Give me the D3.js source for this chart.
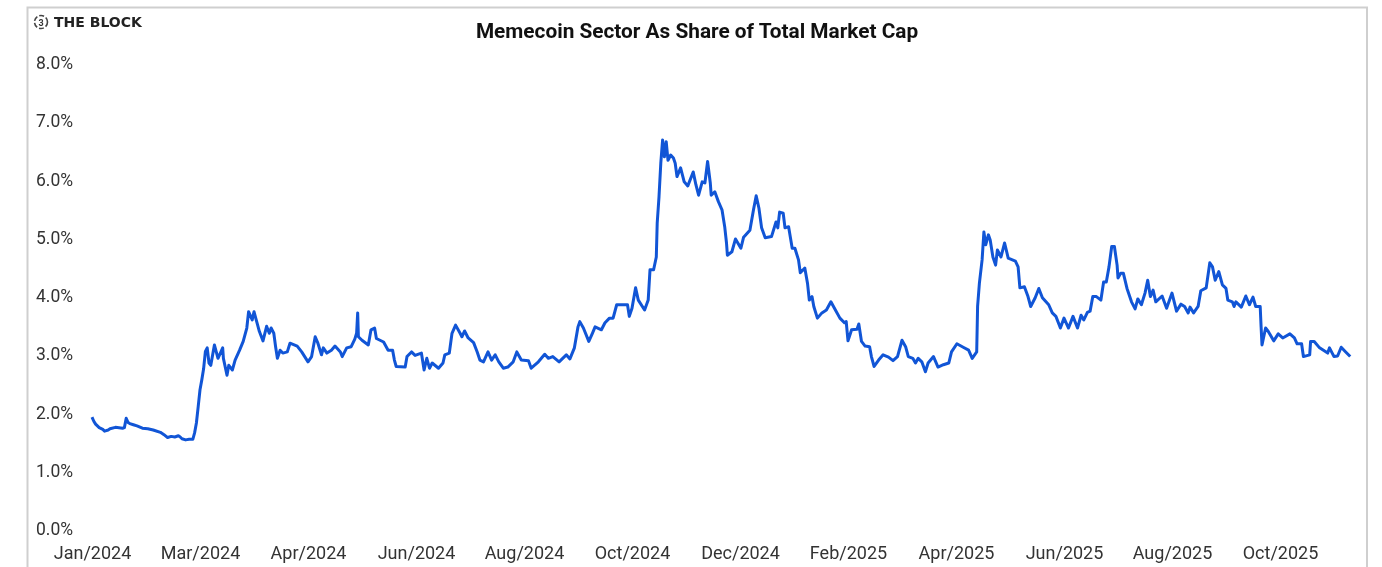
<!DOCTYPE html>
<html>
<head>
<meta charset="utf-8">
<script src="https://cdn.jsdelivr.net/npm/d3@7/dist/d3.min.js"></script>
<style>
html,body{margin:0;padding:0;background:#fff;overflow:hidden}
svg{display:block;filter:blur(0.6px)}
text{font-family:Roboto,sans-serif}
</style>
</head>
<body>
<svg id="c" width="1382" height="567"></svg>
<script>
const chartTitle = "Memecoin Sector As Share of Total Market Cap";
const brandName = "THE BLOCK";
const startDate = "2024-01-01";
const xTickDays = [0,60,120,180,240,300,360,420,480,540,600,660];
const yTickValues = [0,1,2,3,4,5,6,7,8];
const daysSinceStart = [
0,1,2,3,4,6,7,9,10,13,17,18,19,20,21,23,25,28,31,34,38,40,42,44,46,48,49,50,52,54,56,57,58,59,60,61,62,63,64,65,66,68,70,72.6,73,75,76,78,79.5,82,84,86,87,
89,90,91.5,93,95,97,98.5,99.5,101,102,103,104.5,106,108.5,110,114,116.5,120,122,124,125.5,127.5,128.5,130.5,133,135,138,139,141.5,144,146,147,147.6,148,150,153.5,155,157,158,160,162,164.5,167,168,169,174,
175,177.5,179.5,183,184.5,186,187.5,189,192.5,195,196,198.5,200,202,204.5,205.5,207,209,212,214,215.5,217.5,220,222,224,226,228.5,231,234,236,238.5,242.5,244,248,251.5,253.5,256,259.5,263.5,265.5,268,270,271,273,276,278,279.5,283,285,287.5,289.5,291.5,297.5,298.5,300,302,303.5,307,309,310,312,313.5,314,315,316,317,318,319,320,321.5,323,324,325,327,329,331,334,335.5,337,339,340.5,342,343.5,344,346,348,350,351.5,352.5,353,355.5,357.5,360.5,362,365.5,367.5,369,370.5,372,374,377.5,380,381,382,384,385,387,389,390.5,392.5,393.5,396,397.5,398.5,400,401,403,405.5,408,410.5,413,415.5,418,419,420,422,425,426,427.5,429.5,432,433,434.5,437,439.5,442.5,445,447.5,450,452,453.5,456,457.5,459,461,463,464.5,467.5,470,473,476,477.5,480.5,484,487,489,491.5,492,493,494.5,495.5,496.5,498,499,500.5,502,503,505,507,509,513,514.5,515.5,518,520,521.5,524,526,528,531.5,533.5,535.5,538,540,542.5,545,547.5,549.5,551,553,554.5,556,558,560.5,562,563.5,565,566.5,568,569.5,570,571.5,573,575,577.5,579.5,581,583,585,586.5,588,589.5,591,594.5,597,600,602.5,605,607,609,610,612,614.5,616,619,621,622.5,624,626,628,630,631,633.5,634.5,635.5,638.5,641,643,645,646.5,649,649.5,650,652,653.5,656.5,659,661.5,665.5,668,669.5,672,673,676.5,677,679,682,686.5,687.5,690,692,694,696.5,699
];
const memecoinSharePct = [
1.92,1.85,1.80,1.77,1.74,1.71,1.68,1.70,1.72,1.745,1.73,1.74,1.90,1.83,1.81,1.79,1.77,1.73,1.72,1.70,1.66,1.62,1.57,1.59,1.58,1.60,1.58,1.55,1.53,1.54,1.54,1.65,1.82,2.10,2.39,2.56,2.75,3.05,3.11,2.85,2.81,3.16,2.93,3.11,2.93,2.64,2.81,2.73,2.90,3.07,3.22,3.45,3.73,
3.59,3.73,3.56,3.39,3.23,3.48,3.36,3.45,3.36,3.13,2.93,3.07,3.02,3.04,3.19,3.14,3.04,2.87,2.96,3.30,3.19,2.99,3.11,3.02,3.07,3.14,3.04,2.96,3.11,3.13,3.26,3.36,3.71,3.30,3.24,3.16,3.42,3.45,3.27,3.24,3.21,3.07,3.07,2.90,2.79,2.78,
2.96,3.04,2.98,3.02,2.73,2.93,2.76,2.85,2.76,2.85,2.99,3.02,3.36,3.50,3.36,3.30,3.40,3.28,3.20,3.04,2.90,2.87,3.04,2.90,2.99,2.87,2.76,2.78,2.87,3.04,2.90,2.89,2.76,2.87,3.00,2.93,2.96,2.87,2.99,2.92,3.11,3.47,3.56,3.45,3.22,3.36,3.47,3.42,3.54,3.62,3.62,3.85,3.85,3.65,3.79,4.14,3.93,3.76,3.93,4.45,4.45,4.67,5.25,5.70,6.28,6.68,6.39,6.65,6.33,6.42,6.37,6.28,6.05,6.20,5.96,5.89,6.13,5.91,5.73,5.96,5.94,6.31,5.94,5.73,5.79,5.62,5.48,5.19,4.91,4.70,4.76,4.98,4.82,5.01,5.13,5.48,5.72,5.51,5.17,5.00,5.02,5.27,5.17,5.44,5.42,5.17,5.19,4.82,4.82,4.62,4.40,4.48,4.22,3.93,3.99,3.82,3.62,3.71,3.76,3.90,3.76,3.62,3.54,3.56,3.23,3.42,3.43,3.52,3.22,3.14,3.13,2.96,2.79,2.90,2.99,2.95,2.89,2.96,3.24,3.13,2.96,2.93,2.85,2.93,2.87,2.70,2.85,2.96,2.78,2.82,2.85,3.04,3.18,3.12,3.07,2.93,3.04,3.82,4.22,4.62,5.10,4.88,5.05,4.96,4.67,4.53,4.79,4.67,4.91,4.65,4.60,4.50,4.14,4.16,3.99,3.82,3.97,4.13,3.97,3.85,3.71,3.65,3.45,3.62,3.45,3.65,3.45,3.67,3.59,3.72,3.74,3.99,3.99,3.93,4.24,4.24,4.50,4.85,4.85,4.53,4.31,4.39,4.39,4.13,3.90,3.78,3.95,3.85,4.05,4.27,3.99,4.10,3.90,4.00,3.79,4.05,3.74,3.86,3.82,3.71,3.81,3.71,3.82,4.09,4.14,4.57,4.50,4.27,4.42,4.19,4.13,3.93,3.90,3.82,3.90,3.81,4.00,3.85,3.98,3.82,3.82,3.47,3.16,3.45,3.39,3.23,3.35,3.28,3.35,3.28,3.18,3.18,2.96,2.99,3.22,3.22,3.11,3.02,3.11,2.96,2.97,3.12,3.04,2.96
];

const origin = new Date(startDate + "T00:00:00Z");
const toDate = d => new Date(origin.getTime() + d * 864e5);
const rows = daysSinceStart.map((d,i)=>({date:toDate(d), v:memecoinSharePct[i]}));

const svg = d3.select("#c");
const x = d3.scaleUtc().domain([toDate(0), toDate(700)]).range([92, 1352]);
const y = d3.scaleLinear().domain([0,8]).range([529, 63]);

// frame
svg.append("path").attr("d","M27.5,567V7.5H1367V567").attr("fill","none").attr("stroke","#cfcfcf").attr("stroke-width",2);

// axes
const yAxis = d3.axisLeft(y).tickValues(yTickValues).tickSize(0).tickPadding(0).tickFormat(d=>d3.format(".1f")(d)+"%");
const gy = svg.append("g").attr("transform","translate(36,0)").call(yAxis);
gy.select(".domain").remove();
gy.selectAll("text").attr("text-anchor","start").attr("fill","#333").style("font-size","17.5px").style("font-family","Roboto,sans-serif");

const xAxis = d3.axisBottom(x).tickValues(xTickDays.map(toDate)).tickSize(0).tickPadding(0).tickFormat(d3.utcFormat("%b/%Y"));
const gx = svg.append("g").attr("transform","translate(0,546)").call(xAxis);
gx.select(".domain").remove();
gx.selectAll("text").attr("fill","#333").style("font-size","18px").style("font-family","Roboto,sans-serif");

// series
const line = d3.line().x(d=>x(d.date)).y(d=>y(d.v));
svg.append("path").datum(rows).attr("d",line).attr("fill","none").attr("stroke","#1155d6").attr("stroke-width",3).attr("stroke-linejoin","round");

// title
svg.append("text").attr("x",697).attr("y",38).attr("text-anchor","middle").attr("fill","#111")
  .style("font-size","20.8px").style("font-weight","700").text(chartTitle);

// brand
const logo = svg.append("g").attr("transform","translate(41,22)");
logo.append("circle").attr("r",6.5).attr("fill","none").attr("stroke","#444").attr("stroke-width",1.6).attr("stroke-dasharray","5 2");
logo.append("text").attr("text-anchor","middle").attr("y",3.5).attr("fill","#333").style("font-size","9px").style("font-weight","700").text("3");
svg.append("text").attr("x",54).attr("y",27).attr("fill","#222")
  .style("font-family","'DejaVu Sans',sans-serif").style("font-size","14px").style("font-weight","700").text(brandName);
</script>
</body>
</html>
